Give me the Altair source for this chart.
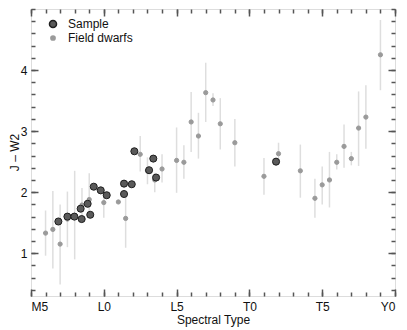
import altair as alt
import pandas as pd

# Spectral type numeric code: M5=5, L0=10, L5=15, T0=20, T5=25, Y0=30
TICK_VALUES = [5, 10, 15, 20, 25, 30]
TICK_LABELS = ["M5", "L0", "L5", "T0", "T5", "Y0"]

# Field dwarfs (mean J-W2 per spectral type with scatter)
field_spt = [6.0, 6.5, 7.0, 7.5, 8.0, 8.5, 9.0, 10.0, 11.0, 11.5, 12.5, 13.0, 13.5, 14.0,
             15.0, 15.5, 16.0, 16.5, 17.0, 17.5, 18.0, 19.0, 21.0, 22.0, 23.5, 24.5,
             25.0, 25.5, 26.0, 26.5, 27.0, 27.5, 28.0, 29.0]
field_col = [1.33, 1.39, 1.15, 1.56, 1.62, 1.79, 1.88, 1.83, 1.84, 1.57, 2.62, 2.35, 2.20, 2.38,
             2.52, 2.49, 3.15, 2.92, 3.63, 3.51, 3.12, 2.81, 2.26, 2.63, 2.35, 1.90,
             2.12, 2.20, 2.49, 2.75, 2.55, 3.05, 3.23, 4.25]
field_lo = [0.96, 0.75, 0.49, 1.10, 0.90, 1.50, 1.65, 1.58, 1.82, 1.09, 2.34, 2.13, 2.00, 2.16,
            1.99, 2.22, 2.66, 2.55, 3.15, 3.41, 2.70, 2.42, 1.96, 2.55, 1.91, 1.58,
            1.80, 1.75, 2.37, 2.40, 2.44, 2.43, 2.71, 3.67]
field_hi = [1.70, 2.02, 1.80, 2.01, 2.35, 2.07, 2.31, 1.99, 1.86, 1.94, 2.92, 2.57, 2.32, 2.62,
            3.06, 2.77, 3.64, 3.30, 4.12, 3.62, 3.54, 3.20, 2.56, 2.81, 2.78, 2.22,
            2.42, 2.66, 2.62, 3.11, 2.66, 3.65, 3.75, 4.82]

# Sample objects
sample_spt = [6.88, 7.50, 7.98, 8.48, 8.41, 8.89, 9.07, 9.31, 9.79, 10.20, 11.39, 11.92,
              11.39, 12.10, 13.40, 13.11, 13.59, 21.83]
sample_col = [1.52, 1.60, 1.60, 1.56, 1.73, 1.81, 1.63, 2.09, 2.03, 1.95, 2.14, 2.13,
              1.97, 2.67, 2.55, 2.36, 2.24, 2.50]

SERIES = ["Sample", "Field dwarfs"]

field_df = pd.DataFrame({"spt": field_spt, "col": field_col, "lo": field_lo,
                         "hi": field_hi, "kind": SERIES[1]})
sample_df = pd.DataFrame({"spt": sample_spt, "col": sample_col, "kind": SERIES[0]})
points_df = pd.concat([field_df[["spt", "col", "kind"]], sample_df], ignore_index=True)

label_expr = " : ".join(
    f"datum.value == {v} ? '{t}'" for v, t in zip(TICK_VALUES, TICK_LABELS)
) + " : ''"

AX = "#555555"
FONT = "Liberation Sans"
xs = alt.Scale(domain=[5, 30], nice=False, zero=False)
ys = alt.Scale(domain=[0.3, 5.0], nice=False, zero=False)
minor_x = list(range(5, 31))
minor_y = [round(0.4 + 0.2 * i, 1) for i in range(24)]
major_y = [1, 2, 3, 4]


def xaxis(orient, major, labels=False, title=None):
    size = 7 if major else 4
    kw = dict(orient=orient, values=TICK_VALUES if major else minor_x, tickSize=size,
              offset=-size, domain=False, grid=False, tickColor=AX, tickWidth=1.5,
              labels=labels, title=title)
    if labels:
        kw.update(labelExpr=label_expr, labelPadding=5, labelFontSize=12,
                  labelColor="#111111", labelFont=FONT)
    if title:
        kw.update(titleFontSize=12, titleFontWeight="normal", titleColor="#111111",
                  titleFont=FONT, titleX=182, titleY=25, titleBaseline="top",
                  titleAlign="center")
    return alt.Axis(**kw)


def yaxis(orient, major, labels=False, title=None):
    size = 7 if major else 4
    kw = dict(orient=orient, values=major_y if major else minor_y, tickSize=size,
              offset=-size, domain=False, grid=False, tickColor=AX, tickWidth=1.5,
              labels=labels, title=title)
    if labels:
        kw.update(labelPadding=4, labelFontSize=12, labelColor="#111111", labelFont=FONT)
    if title:
        kw.update(titleFontSize=12, titleFontWeight="normal", titleColor="#111111",
                  titleFont=FONT, titleX=-20, titleY=143, titleAngle=270,
                  titleBaseline="alphabetic", titleAlign="center")
    return alt.Axis(**kw)


errbars = alt.Chart(field_df).mark_rule(color="#dedede", strokeWidth=1.5).encode(
    x=alt.X("spt:Q", scale=xs, axis=xaxis("bottom", True, True, "Spectral Type")),
    y=alt.Y("lo:Q", scale=ys, axis=yaxis("left", True, True, "J – W2")),
    y2="hi:Q",
)

legend = alt.Legend(title=None, orient="none", legendX=16, legendY=9,
                    labelFontSize=12, labelFont=FONT, labelColor="#111111",
                    rowPadding=1, labelOffset=9, padding=0)

points = alt.Chart(points_df).mark_circle(opacity=1, strokeWidth=1).encode(
    x=alt.X("spt:Q", scale=xs, axis=xaxis("bottom", False)),
    y=alt.Y("col:Q", scale=ys, axis=yaxis("left", False)),
    fill=alt.Fill("kind:N", scale=alt.Scale(domain=SERIES, range=["#5a5a5a", "#9a9a9a"]),
                  legend=legend),
    stroke=alt.Stroke("kind:N", scale=alt.Scale(domain=SERIES, range=["#1e1e1e", "#9a9a9a"]),
                      legend=legend),
    size=alt.Size("kind:N", scale=alt.Scale(domain=SERIES, range=[50, 18]), legend=legend),
    order=alt.Order("ord:Q"),
).transform_calculate(ord="datum.kind == 'Sample' ? 1 : 0")

dummy1 = alt.Chart(field_df).mark_circle(opacity=0).encode(
    x=alt.X("spt:Q", scale=xs, axis=xaxis("top", True)),
    y=alt.Y("col:Q", scale=ys, axis=yaxis("right", True)),
)
dummy2 = alt.Chart(field_df).mark_circle(opacity=0).encode(
    x=alt.X("spt:Q", scale=xs, axis=xaxis("top", False)),
    y=alt.Y("col:Q", scale=ys, axis=yaxis("right", False)),
)

chart = alt.layer(errbars, points, dummy1, dummy2).resolve_axis(
    x="independent", y="independent"
).properties(
    width=364, height=287,
    autosize=alt.AutoSizeParams(type="none"),
    padding={"left": 23, "top": 1, "right": 4, "bottom": 34},
).configure_view(stroke=AX, strokeWidth=1.8).configure(background="white")

chart.save("out.html", embed_options={"renderer": "svg", "actions": False})
